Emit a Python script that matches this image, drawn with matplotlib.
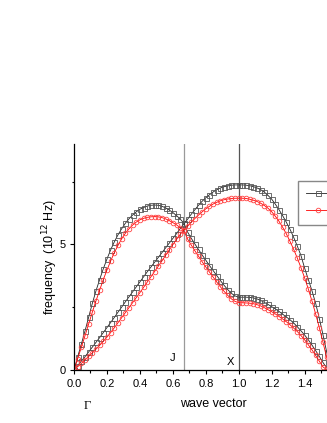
import numpy as np
import matplotlib
matplotlib.use("Agg")
import matplotlib.pyplot as plt
from matplotlib.ticker import MultipleLocator, FormatStrFormatter

plt.rcParams['font.family'] = ['Liberation Sans', 'DejaVu Sans']

# wave vector sampling: 30 steps Gamma->J, 15 steps J->X, then on past X
k = np.arange(71) / 45.0

# black set (squares)
black_1 = [0.00, 0.52, 1.03, 1.55, 2.10, 2.65, 3.15, 3.60, 4.03, 4.42,
           4.78, 5.10, 5.38, 5.62, 5.84, 6.02, 6.17, 6.30, 6.40, 6.47,
           6.53, 6.56, 6.57, 6.56, 6.52, 6.46, 6.37, 6.27, 6.15, 6.01,
           5.85, 5.50, 5.25, 5.02, 4.80, 4.58, 4.37, 4.16, 3.96, 3.76,
           3.56, 3.37, 3.20, 3.05, 2.95, 2.90, 2.90, 2.90, 2.89, 2.87,
           2.83, 2.77, 2.69, 2.61, 2.52, 2.43, 2.33, 2.22, 2.11, 2.00,
           1.87, 1.72, 1.56, 1.39, 1.20, 0.99, 0.77, 0.54, 0.30, 0.08,
           0.05]
black_2 = [0.00, 0.17, 0.35, 0.53, 0.72, 0.91, 1.10, 1.29, 1.49, 1.69,
           1.89, 2.09, 2.30, 2.50, 2.71, 2.91, 3.11, 3.31, 3.51, 3.71,
           3.91, 4.10, 4.29, 4.48, 4.67, 4.86, 5.05, 5.24, 5.43, 5.63,
           5.82, 6.00, 6.20, 6.38, 6.56, 6.72, 6.86, 6.98, 7.09, 7.18,
           7.25, 7.30, 7.33, 7.36, 7.37, 7.37, 7.37, 7.36, 7.34, 7.30,
           7.25, 7.18, 7.08, 6.95, 6.80, 6.60, 6.38, 6.14, 5.88, 5.60,
           5.28, 4.93, 4.55, 4.05, 3.60, 3.15, 2.65, 2.05, 1.40, 0.72,
           0.05]

# red set (circles)
red_1 = [0.00, 0.45, 0.90, 1.36, 1.83, 2.30, 2.75, 3.18, 3.60, 3.98,
         4.34, 4.67, 4.96, 5.22, 5.44, 5.62, 5.77, 5.89, 5.98, 6.04,
         6.08, 6.10, 6.11, 6.10, 6.07, 6.02, 5.95, 5.87, 5.78, 5.67,
         5.55, 5.22, 4.98, 4.75, 4.53, 4.31, 4.10, 3.90, 3.70, 3.50,
         3.31, 3.13, 2.97, 2.83, 2.73, 2.68, 2.68, 2.67, 2.66, 2.64,
         2.60, 2.55, 2.48, 2.40, 2.32, 2.23, 2.13, 2.03, 1.92, 1.80,
         1.67, 1.53, 1.37, 1.20, 1.00, 0.80, 0.58, 0.35, 0.12, 0.02,
         0.10]
red_2 = [0.00, 0.13, 0.26, 0.40, 0.54, 0.68, 0.83, 0.98, 1.14, 1.31,
         1.49, 1.68, 1.88, 2.08, 2.28, 2.48, 2.68, 2.88, 3.08, 3.29,
         3.50, 3.71, 3.92, 4.13, 4.34, 4.56, 4.78, 4.99, 5.20, 5.40,
         5.58, 5.72, 5.88, 6.03, 6.17, 6.30, 6.42, 6.52, 6.61, 6.68,
         6.74, 6.78, 6.81, 6.83, 6.84, 6.84, 6.84, 6.83, 6.80, 6.76,
         6.71, 6.64, 6.55, 6.44, 6.30, 6.12, 5.92, 5.68, 5.42, 5.12,
         4.80, 4.45, 4.07, 3.66, 3.22, 2.74, 2.23, 1.68, 1.10, 0.50,
         0.00]

legend_labels = ["series 1", "series 2"]
k_J, k_X = 2 / 3, 1.0

fig = plt.figure(figsize=(3.27, 4.23), dpi=100)
# axes run on past the right edge of the picture, as in the original crop
ax = fig.add_axes([74 / 327, 53 / 423, 262 / 327, 226 / 423])

ax.axvline(k_J, color='#9a9a9a', lw=0.9, zorder=1)
ax.axvline(k_X, color='#555555', lw=0.9, zorder=1)

sq = dict(color='#222222', lw=0.6, marker='s', ms=3.6, mfc='none',
          mec='#555555', mew=0.6)
ci = dict(color='#ff0000', lw=0.6, marker='o', ms=3.3, mfc='none',
          mec='#ff4444', mew=0.6)
h1, = ax.plot(k, black_1, **sq)
ax.plot(k, black_2, **sq)
h2, = ax.plot(k, red_1, **ci)
ax.plot(k, red_2, **ci)

ax.set_xlim(0, 1.59)
ax.set_ylim(0, 9)
ax.xaxis.set_major_locator(MultipleLocator(0.2))
ax.xaxis.set_minor_locator(MultipleLocator(0.1))
ax.xaxis.set_major_formatter(FormatStrFormatter('%.1f'))
ax.yaxis.set_major_locator(MultipleLocator(5))
ax.yaxis.set_minor_locator(MultipleLocator(2.5))
ax.tick_params(which='both', direction='out', labelsize=8, width=0.8)
ax.tick_params(which='major', length=3)
ax.tick_params(which='minor', length=1.8)
ax.tick_params(axis='x', pad=3.5)
ax.tick_params(axis='y', pad=3)
for s in ['top', 'right']:
    ax.spines[s].set_visible(False)
for s in ['left', 'bottom']:
    ax.spines[s].set_linewidth(0.9)

ax.text(0.596, 0.47, "J", fontsize=8, ha='center', va='center')
ax.text(0.951, 0.33, "X", fontsize=8, ha='center', va='center')

ax.set_xlabel("wave vector", fontsize=9)
ax.xaxis.set_label_coords((213 - 74) / 262, -0.15)
ax.xaxis.label.set_va('center')
ax.set_ylabel(r"frequency  (10$^{12}$ Hz)", fontsize=9)
ax.yaxis.set_label_coords(-24 / 262, 0.5)
ax.yaxis.label.set_va('center')

fig.text(87.3 / 327, 1 - 406 / 423, "Γ", family='Liberation Serif',
         fontsize=9, ha='center', va='center')

fig.legend([h1, h2], legend_labels, loc='upper left',
           bbox_to_anchor=(298 / 327, 1 - 180.7 / 423), borderaxespad=0,
           fontsize=9, handlelength=2.0, borderpad=0.6, labelspacing=0.45,
           handletextpad=0.5, fancybox=False, edgecolor='#888888',
           framealpha=1)

fig.savefig("out.png", dpi=100)
